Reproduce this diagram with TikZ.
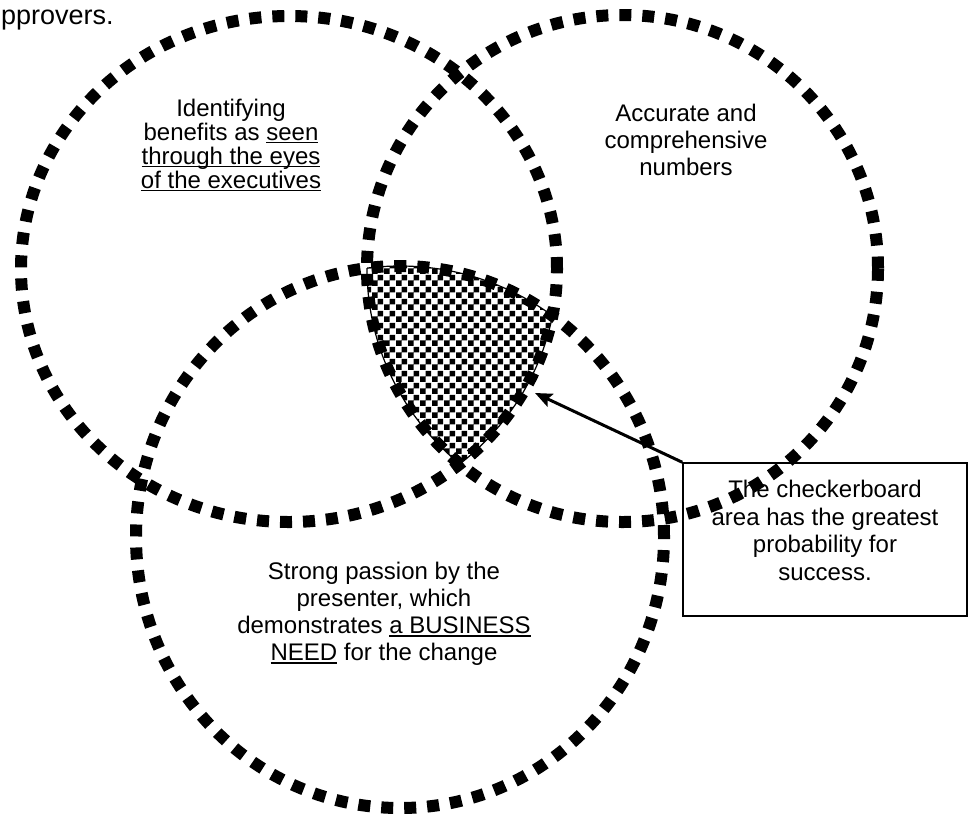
\documentclass[tikz,border=0pt]{standalone}
\usepackage{fontspec}
\setmainfont{Liberation Sans}
\usetikzlibrary{arrows.meta,patterns}

\pgfdeclarepatternformonly{bigchecker}{\pgfpointorigin}{\pgfqpoint{12pt}{12pt}}{\pgfqpoint{12pt}{12pt}}{%
  \pgfpathrectangle{\pgfpointorigin}{\pgfqpoint{6pt}{6pt}}%
  \pgfpathrectangle{\pgfqpoint{6pt}{6pt}}{\pgfqpoint{6pt}{6pt}}%
  \pgfusepath{fill}}

\newcommand{\undl}[1]{\setbox0=\hbox{#1}\rlap{\rule[-3.2pt]{\wd0}{1.6pt}}\box0\relax}

\begin{document}
\begin{tikzpicture}[
  x=1pt,y=-1pt,
  ring/.style={line width=12pt, dash pattern=on 12pt off 11pt},
  rim/.style={line width=1.2pt},
  txt/.style={align=center, inner sep=0pt, font=\fontsize{24}{27}\selectfont},
  note/.style={draw=black, line width=1.5pt, minimum width=284pt, minimum height=153pt, align=center, font=\fontsize{24}{27.5}\selectfont},
  arrow/.style={-{Stealth[length=17pt,width=14pt,inset=3pt]}, line width=3pt}
]
\useasboundingbox (0,0) rectangle (968,825);
% checkerboard area
\begin{scope}
  \clip (289,269) ellipse [x radius=268pt, y radius=253pt];
  \clip (622.5,268.5) ellipse [x radius=255.5pt, y radius=253.5pt];
  \fill[pattern=bigchecker] (400,537) ellipse [x radius=264pt, y radius=271pt];
  \draw[rim] (400,537) ellipse [x radius=264pt, y radius=271pt];
\end{scope}
\begin{scope}
  \clip (289,269) ellipse [x radius=268pt, y radius=253pt];
  \clip (400,537) ellipse [x radius=264pt, y radius=271pt];
  \draw[rim] (622.5,268.5) ellipse [x radius=255.5pt, y radius=253.5pt];
\end{scope}
\begin{scope}
  \clip (622.5,268.5) ellipse [x radius=255.5pt, y radius=253.5pt];
  \clip (400,537) ellipse [x radius=264pt, y radius=271pt];
  \draw[rim] (289,269) ellipse [x radius=268pt, y radius=253pt];
\end{scope}
% the three rings
\draw[ring] (289,269) ellipse [x radius=268pt, y radius=253pt];
\draw[ring] (622.5,268.5) ellipse [x radius=255.5pt, y radius=253.5pt];
\draw[ring] (400,537) ellipse [x radius=264pt, y radius=271pt];

\node[txt, anchor=base west, font=\fontsize{27}{30}\selectfont] (approvers) at (1,24) {pprovers.};
\node[txt, font=\fontsize{24}{24}\selectfont] (benefits) at (231,145) {Identifying\\benefits as \undl{seen}\\\undl{through the eyes}\\\undl{of the executives}};
\node[txt] (numbers) at (686,140) {Accurate and\\comprehensive\\numbers};
\node[txt] (passion) at (384,614) {Strong passion by the\\presenter, which\\demonstrates \undl{a BUSINESS}\\\undl{NEED} for the change};
\node[note] (note) at (825,539.5) {The checkerboard\\area has the greatest\\probability for\\success.\\[-9.5pt]\mbox{}};
\coordinate (target) at (535,393);
\draw[arrow] (note.north west) -- (target);
\end{tikzpicture}
\end{document}
